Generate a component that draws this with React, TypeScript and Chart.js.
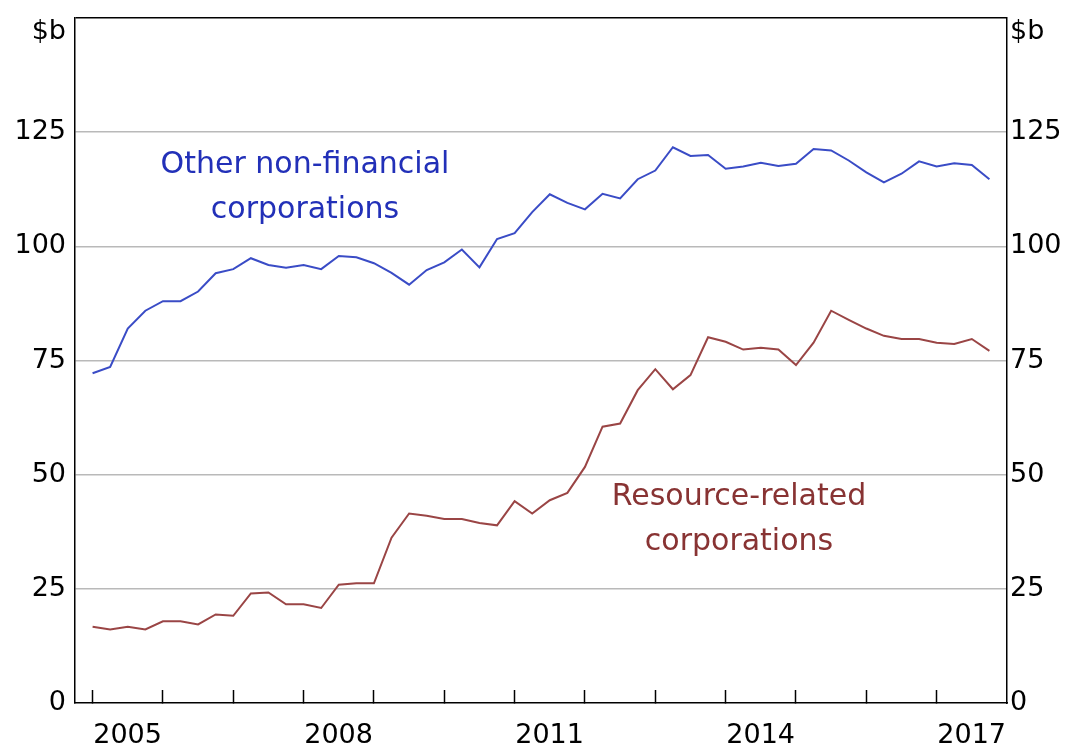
import React, { useEffect, useRef } from 'react';
import { Chart, registerables } from 'chart.js';

Chart.register(...registerables);

// Quarterly observations, 2005 Q1 to 2017 Q4
const quarters: string[] = [
  '2005-Q1', '2005-Q2', '2005-Q3', '2005-Q4',
  '2006-Q1', '2006-Q2', '2006-Q3', '2006-Q4',
  '2007-Q1', '2007-Q2', '2007-Q3', '2007-Q4',
  '2008-Q1', '2008-Q2', '2008-Q3', '2008-Q4',
  '2009-Q1', '2009-Q2', '2009-Q3', '2009-Q4',
  '2010-Q1', '2010-Q2', '2010-Q3', '2010-Q4',
  '2011-Q1', '2011-Q2', '2011-Q3', '2011-Q4',
  '2012-Q1', '2012-Q2', '2012-Q3', '2012-Q4',
  '2013-Q1', '2013-Q2', '2013-Q3', '2013-Q4',
  '2014-Q1', '2014-Q2', '2014-Q3', '2014-Q4',
  '2015-Q1', '2015-Q2', '2015-Q3', '2015-Q4',
  '2016-Q1', '2016-Q2', '2016-Q3', '2016-Q4',
  '2017-Q1', '2017-Q2', '2017-Q3', '2017-Q4',
];

// $b
const otherNonFinancial: number[] = [
  72.2, 73.6, 82.0, 85.9, 88.0, 88.0, 90.1, 94.1, 95.0, 97.4,
  95.9, 95.3, 95.9, 95.0, 97.9, 97.6, 96.3, 94.2, 91.6, 94.8,
  96.5, 99.3, 95.4, 101.6, 102.9, 107.5, 111.4, 109.5, 108.1, 111.5,
  110.5, 114.7, 116.6, 121.7, 119.8, 120.0, 117.0, 117.5, 118.3, 117.6,
  118.1, 121.3, 121.0, 118.8, 116.2, 114.0, 115.9, 118.6, 117.5, 118.2,
  117.8, 114.7,
];

const resourceRelated: number[] = [
  16.7, 16.1, 16.7, 16.1, 17.9, 17.9, 17.2, 19.4, 19.1, 24.0,
  24.2, 21.6, 21.6, 20.8, 25.9, 26.2, 26.2, 36.2, 41.5, 41.0,
  40.3, 40.3, 39.4, 38.9, 44.2, 41.5, 44.4, 46.0, 51.7, 60.5,
  61.2, 68.5, 73.1, 68.7, 71.8, 80.1, 79.1, 77.4, 77.8, 77.4,
  74.0, 78.9, 85.9, 83.9, 82.0, 80.4, 79.7, 79.7, 78.9, 78.6,
  79.7, 77.1,
];

const xTickYears: number[] = [2005, 2006, 2007, 2008, 2009, 2010, 2011, 2012, 2013, 2014, 2015, 2016, 2017];
const xLabelYears: number[] = [2005, 2008, 2011, 2014, 2017];
const yTickValues: number[] = [0, 25, 50, 75, 100, 125, 150];
const yUnitLabel = '$b';
const otherLabelLines: string[] = ['Other non-financial', 'corporations'];
const resourceLabelLines: string[] = ['Resource-related', 'corporations'];

const FONT = '"DejaVu Sans", "Liberation Sans", Arial, sans-serif';
const BLUE_LINE = '#3a4cc6';
const BLUE_TEXT = '#2230b8';
const RED_LINE = '#9a4545';
const RED_TEXT = '#883333';
const GRID = '#b9b9b9';

function quarterToYear(q: string): number {
  const [y, qq] = q.split('-Q');
  return Number(y) + (Number(qq) - 1) / 4;
}

const notesPlugin = {
  id: 'seriesNotes',
  afterDatasetsDraw(chart: any) {
    const { ctx, scales } = chart;
    const xs = scales.x;
    const ys = scales.y;
    const notes = [
      { lines: otherLabelLines, x: 2008.02, y: 117.8, color: BLUE_TEXT },
      { lines: resourceLabelLines, x: 2014.19, y: 45.1, color: RED_TEXT },
    ];
    ctx.save();
    ctx.font = `30px ${FONT}`;
    ctx.textAlign = 'center';
    ctx.textBaseline = 'middle';
    for (const n of notes) {
      ctx.fillStyle = n.color;
      const px = xs.getPixelForValue(n.x);
      const py = ys.getPixelForValue(n.y);
      n.lines.forEach((line: string, k: number) => {
        ctx.fillText(line, px, py + k * 45);
      });
    }
    ctx.restore();
  },
};

export default function App() {
  const ref = useRef<HTMLCanvasElement>(null);

  useEffect(() => {
    const canvas = ref.current;
    if (!canvas) return;
    const tickFont = { family: FONT, size: 27, lineHeight: 1 };
    const yCallback = (v: any) => (Number(v) === 150 ? ['', yUnitLabel] : String(v));
    const chart = new Chart(canvas, {
      type: 'line',
      data: {
        datasets: [
          {
            label: 'Other non-financial corporations',
            data: quarters.map((q, i) => ({ x: quarterToYear(q), y: otherNonFinancial[i] })),
            borderColor: BLUE_LINE,
            borderWidth: 2,
            pointRadius: 0,
            tension: 0,
            fill: false,
            yAxisID: 'y',
          },
          {
            label: 'Resource-related corporations',
            data: quarters.map((q, i) => ({ x: quarterToYear(q), y: resourceRelated[i] })),
            borderColor: RED_LINE,
            borderWidth: 2,
            pointRadius: 0,
            tension: 0,
            fill: false,
            yAxisID: 'y',
          },
        ],
      },
      options: {
        animation: false,
        responsive: false,
        layout: { padding: { top: 18, left: 0, right: 0, bottom: 0 } },
        plugins: { legend: { display: false }, tooltip: { enabled: false } },
        scales: {
          x: {
            type: 'linear',
            position: 'bottom',
            min: 2004.75,
            max: 2018,
            afterBuildTicks: (s: any) => {
              s.ticks = xTickYears.map((v) => ({ value: v }));
            },
            afterFit: (s: any) => {
              s.height = 48;
              s.paddingLeft = 0;
              s.paddingRight = 0;
            },
            grid: {
              drawOnChartArea: false,
              drawTicks: true,
              tickLength: -13,
              tickColor: '#000',
              tickWidth: 1.5,
            },
            border: { display: true, color: '#000', width: 1.5 },
            ticks: {
              autoSkip: false,
              maxRotation: 0,
              minRotation: 0,
              labelOffset: 35,
              padding: 32,
              color: '#000',
              font: tickFont,
              callback: (v: any) => (xLabelYears.includes(Number(v)) ? String(v) : ''),
            },
          },
          y: {
            position: 'left',
            min: 0,
            max: 150,
            afterBuildTicks: (s: any) => {
              s.ticks = yTickValues.map((v) => ({ value: v }));
            },
            afterFit: (s: any) => {
              s.width = 75;
              s.paddingTop = 0;
              s.paddingBottom = 0;
            },
            grid: {
              drawTicks: false,
              color: (c: any) => {
                const v = c.tick ? c.tick.value : null;
                if (v === 150) return '#000';
                if (v === 0) return 'rgba(0,0,0,0)';
                return GRID;
              },
              lineWidth: 1.5,
            },
            border: { display: true, color: '#000', width: 1.5 },
            ticks: { padding: 9, color: '#000', font: tickFont, callback: yCallback },
          },
          y2: {
            position: 'right',
            min: 0,
            max: 150,
            afterBuildTicks: (s: any) => {
              s.ticks = yTickValues.map((v) => ({ value: v }));
            },
            afterFit: (s: any) => {
              s.width = 63;
              s.paddingTop = 0;
              s.paddingBottom = 0;
            },
            grid: { drawOnChartArea: false, drawTicks: false },
            border: { display: true, color: '#000', width: 1.5 },
            ticks: { padding: 3, color: '#000', font: tickFont, callback: yCallback },
          },
        },
      } as any,
      plugins: [notesPlugin],
    });
    return () => chart.destroy();
  }, []);

  return (
    <div style={{ position: 'fixed', left: 0, top: 0, width: 1070, height: 751, background: '#fff' }}>
      <canvas ref={ref} width={1070} height={751} style={{ display: 'block' }} />
    </div>
  );
}
